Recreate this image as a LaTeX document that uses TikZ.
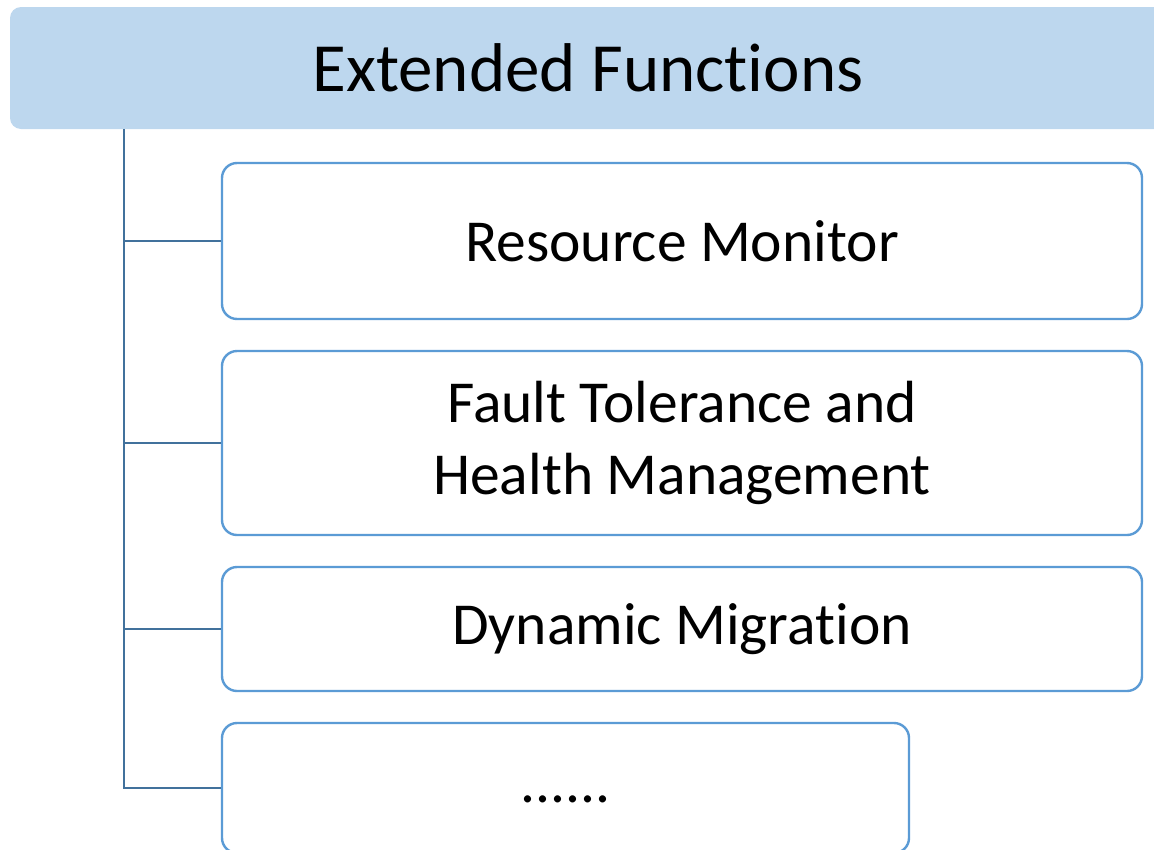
\documentclass[tikz,border=0pt]{standalone}
\usepackage{fontspec}
\setmainfont{Carlito}[Ligatures=NoCommon]
\usepackage{xcolor}
\usetikzlibrary{positioning}
\definecolor{barfill}{HTML}{BDD7EE}
\definecolor{boxline}{HTML}{5B9BD5}
\definecolor{treeline}{HTML}{41719C}

\begin{document}
\begin{tikzpicture}
              [x=1pt, y=-1pt,
               head/.style={fill=barfill, rounded corners=11pt, minimum width=1156pt, minimum height=122pt, font=\fontsize{69}{76}\selectfont},
               item/.style={draw=boxline, line width=2.4pt, rounded corners=15pt, fill=white, minimum width=920pt, align=center, font=\fontsize{59.5}{72}\selectfont},
               branch/.style={draw=treeline, line width=2.6pt}]
              \useasboundingbox (0,0) rectangle (1154,849);
              \clip (0,0) rectangle (1154,849);
              % nodes %
              \node[head] (ext) at (588,68) {Extended Functions};
              \node[item, minimum height=156pt] (res) at (682,241) {Resource Monitor};
              \node[item, minimum height=184pt] (fault) at (682,443) {Fault Tolerance and\\Health Management};
              \node[item, minimum height=124pt] (mig) at (682,629) {Dynamic Migration};
              \node[item, minimum height=130pt, minimum width=687pt] (more) at (565.5,788) {\raisebox{-30pt}{......}};
              \coordinate (trunk) at (124,0);

              % edges %
              \draw[branch] (trunk |- ext.south) -- (trunk |- more.west) -- (more.west);
              \draw[branch] (trunk |- res.west) -- (res.west);
              \draw[branch] (trunk |- fault.west) -- (fault.west);
              \draw[branch] (trunk |- mig.west) -- (mig.west);
\end{tikzpicture}
\end{document}
